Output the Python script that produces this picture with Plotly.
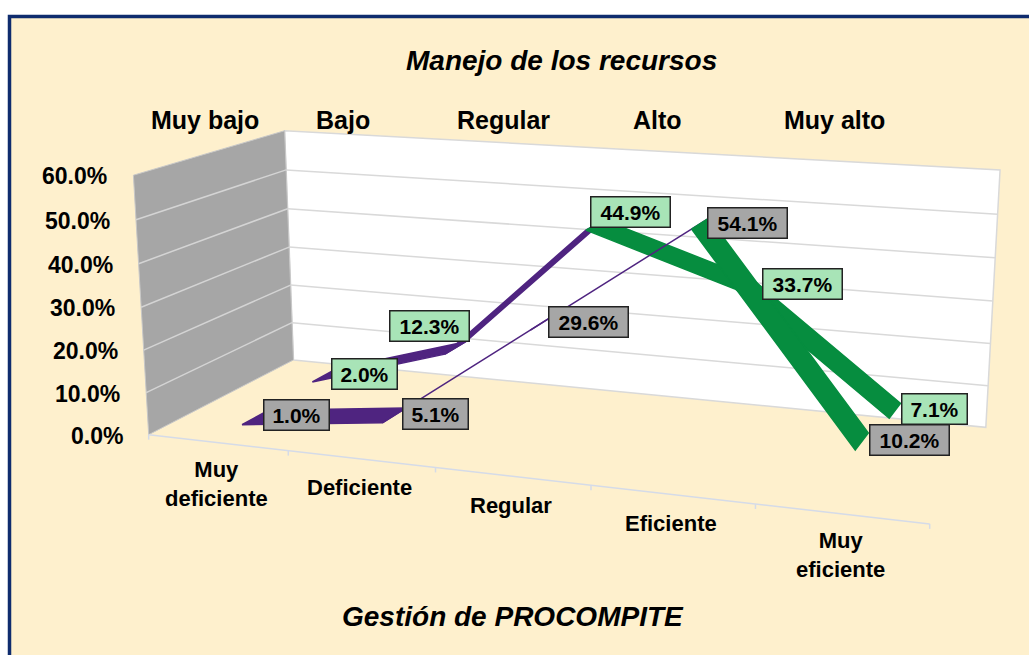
import numpy as np
import plotly.graph_objects as go

# ---- data ----
categories = ["Muy<br>deficiente", "Deficiente", "Regular", "Eficiente", "Muy<br>eficiente"]
top_labels = ["Muy bajo", "Bajo", "Regular", "Alto", "Muy alto"]
tick_values = [0, 10, 20, 30, 40, 50, 60]
tick_labels = ["0.0%", "10.0%", "20.0%", "30.0%", "40.0%", "50.0%", "60.0%"]
front_values = [1.0, 5.1, 29.6, 54.1, 10.2]
back_values = [2.0, 12.3, 44.9, 33.7, 7.1]
title_text = "Manejo de los recursos"
xaxis_title = "Gestión de PROCOMPITE"

# ---- styling / layout ----
PAGE = "#FFFFFF"; BG = "#FEF0CD"; FRAME = "#0F2C6E"
WALL = "#A6A6A6"; PURPLE = "#4F2480"; GREEN = "#068D3F"
FRONT_BOX = "#A6A6A6"; BACK_BOX = "#A8E4B7"
FONT = "Liberation Sans"
N = len(categories); VMAX = tick_values[-1]

# camera calibration: (category position, value, depth) -> screen pixels
calib = [
    ((0, VMAX, 0), (133, 175)), ((0, VMAX, 1), (285, 131)), ((0, 0, 1), (293, 360)),
    ((0, 0, 0), (149, 433)), ((N, VMAX, 1), (1000, 170)), ((N, 0, 1), (986, 427)),
    ((1, 0, 0), (288, 451)), ((2, 0, 0), (437, 468)), ((3, 0, 0), (590, 487)),
    ((4, 0, 0), (755, 505)), ((N, 0, 0), (930, 522)),
]
A = []
for (u, v, w), (px, py) in calib:
    v = v / VMAX
    A.append([u, v, w, 1, 0, 0, 0, 0, -px * u, -px * v, -px * w, -px])
    A.append([0, 0, 0, 0, u, v, w, 1, -py * u, -py * v, -py * w, -py])
P = np.linalg.svd(np.array(A, float))[2][-1].reshape(3, 4)

def proj(u, v, w):
    h = P @ np.array([u, v / VMAX, w, 1.0])
    return float(h[0] / h[2]), float(h[1] / h[2])

fig = go.Figure()

def poly(pts, fill, line=None, width=1):
    xs = [p[0] for p in pts] + [pts[0][0]]
    ys = [p[1] for p in pts] + [pts[0][1]]
    fig.add_trace(go.Scatter(x=xs, y=ys, mode="lines", fill="toself", fillcolor=fill,
                             line=dict(color=line or fill, width=width), hoverinfo="skip", showlegend=False))

def seg(a, b, color, width=1.5):
    fig.add_trace(go.Scatter(x=[a[0], b[0]], y=[a[1], b[1]], mode="lines",
                             line=dict(color=color, width=width), hoverinfo="skip", showlegend=False))

# walls
poly([proj(0, 0, 1), proj(0, VMAX, 1), proj(N, VMAX, 1), proj(N, 0, 1)], "#FFFFFF", "#D9D9D9", 1.5)
poly([proj(0, 0, 0), proj(0, VMAX, 0), proj(0, VMAX, 1), proj(0, 0, 1)], WALL, "#C8C8C8", 1)
for t in tick_values[1:-1]:
    seg(proj(0, t, 1), proj(N, t, 1), "#D9D9D9")
    seg(proj(0, t, 0), proj(0, t, 1), "#D4D4D4")

# category axis + ticks
seg(proj(0, 0, 0), proj(N, 0, 0), "#D5DBE8", 1.5)
for i in range(N + 1):
    a = proj(i, 0, 0)
    seg(a, (a[0], a[1] + 5), "#D5DBE8", 1.5)

# ribbons
def ribbon(values, w0, w1, peak):
    for i in range(len(values) - 1):
        color = PURPLE if i < peak else GREEN
        a, b = values[i], values[i + 1]
        poly([proj(i + .5, a, w0), proj(i + 1.5, b, w0), proj(i + 1.5, b, w1), proj(i + .5, a, w1)], color, color, 1.5)

ribbon(back_values, 0.66, 0.84, int(np.argmax(back_values)))
ribbon(front_values, 0.16, 0.34, int(np.argmax(front_values)))

annos = []
def text(x, y, s, size, italic=False, xanchor="center"):
    annos.append(dict(x=x, y=y, text=s, showarrow=False, xanchor=xanchor, yanchor="middle",
                      font=dict(family=FONT, size=size, color="#000000", weight="bold",
                                style="italic" if italic else "normal")))

text(561, 60, title_text, 28, True)
text(513, 616, xaxis_title, 28, True)
for t, lab in zip(tick_values, tick_labels):
    x, y = proj(0, t, 0)
    text(x - 24, y + 1, lab, 23, xanchor="right")
top_shift = [0, -10, -6, -18, -17]
for i, (c, lab) in enumerate(zip(categories, top_labels)):
    x, y = proj(i + .5, VMAX, 0)
    text(x + top_shift[i], 120, lab, 25)
    x, y = proj(i + .5, 0, 0)
    text(x - 1, y + (41 if "<br>" in c else 29), c, 22)

# data labels: offsets from the back end of each ribbon point
front_offsets = [(28, 5), (29, 6), (37, 5), (38, 5), (41, 7)]
back_offsets = [(29, 5), (-36, -16), (26, -8), (52, 6), (34, 6)]
def labels(values, w1, offsets, fill):
    for i, (v, (dx, dy)) in enumerate(zip(values, offsets)):
        x, y = proj(i + .5, v, w1)
        annos.append(dict(x=x + dx, y=y + dy, text=f"{v:.1f}%", showarrow=False,
                          xanchor="center", yanchor="middle", bgcolor=fill, bordercolor="#222222",
                          borderwidth=1.5, width=(78 if v >= 10 else 64), height=29, borderpad=0,
                          font=dict(family=FONT, size=21, color="#000000", weight="bold")))
labels(front_values, 0.34, front_offsets, FRONT_BOX)
labels(back_values, 0.84, back_offsets, BACK_BOX)

fig.update_layout(
    width=1029, height=655, margin=dict(l=0, r=0, t=0, b=0), autosize=False,
    paper_bgcolor=PAGE, plot_bgcolor=PAGE, showlegend=False,
    xaxis=dict(range=[0, 1029], visible=False, fixedrange=True),
    yaxis=dict(range=[655, 0], visible=False, fixedrange=True),
    annotations=annos,
    shapes=[dict(type="rect", x0=9.5, y0=16.5, x1=1100, y1=700, fillcolor=BG,
                 line=dict(color=FRAME, width=3.5), layer="below")],
)
# drop the page's default body margin so the figure fills the window exactly
fig.write_html("out.html", config={"displayModeBar": False},
               post_script="document.body.style.margin='0';document.documentElement.style.overflow='hidden';")
